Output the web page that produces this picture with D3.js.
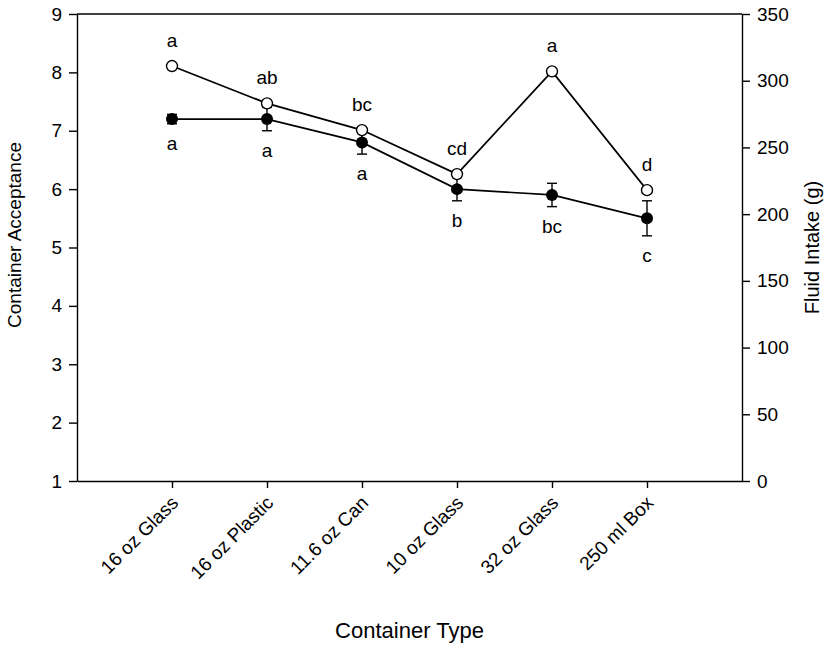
<!DOCTYPE html>
<html>
<head>
<meta charset="utf-8">
<script src="https://cdn.jsdelivr.net/npm/d3@7"></script>
<style>
  body { margin: 0; background: #fff; }
  svg text { font-family: "Liberation Sans", Arial, sans-serif; fill: #000; }
</style>
</head>
<body>
<div id="chart"></div>
<script>
// data
var containers = ["16 oz Glass", "16 oz Plastic", "11.6 oz Can", "10 oz Glass", "32 oz Glass", "250 ml Box"];
var acceptance = [7.2, 7.2, 6.8, 6.0, 5.9, 5.5];
var acceptanceErr = [0.08, 0.2, 0.2, 0.2, 0.2, 0.3];
var acceptanceLetters = ["a", "a", "a", "b", "bc", "c"];
var intake = [311, 283, 263, 230, 307, 218];
var intakeLetters = ["a", "ab", "bc", "cd", "a", "d"];
var leftTicks = [1, 2, 3, 4, 5, 6, 7, 8, 9];
var rightTicks = [0, 50, 100, 150, 200, 250, 300, 350];

// set the dimensions and margins of the graph
var margin = {top: 14, right: 82, bottom: 164, left: 77},
    width = 824 - margin.left - margin.right,
    height = 645 - margin.top - margin.bottom;

var svg = d3.select("#chart")
    .append("svg")
    .attr("width", 824)
    .attr("height", 645)
    .append("g")
    .attr("transform", "translate(" + margin.left + "," + margin.top + ")");

// scales
var x = d3.scalePoint()
    .domain(containers)
    .range([0, width])
    .padding(1);

var yLeft = d3.scaleLinear().domain([1, 9]).range([height, 0]);
var yRight = d3.scaleLinear().domain([0, 350]).range([height, 0]);

// axes
var xAxis = svg.append("g")
    .attr("transform", "translate(0," + height + ")")
    .call(d3.axisBottom(x).tickSize(7).tickSizeOuter(0));
xAxis.selectAll("text")
    .attr("font-size", 19)
    .attr("text-anchor", "end")
    .attr("dy", null)
    .attr("y", null)
    .attr("transform", "translate(7,23) rotate(-45)");

var leftAxis = svg.append("g")
    .call(d3.axisLeft(yLeft).tickValues(leftTicks).tickSize(8).tickSizeOuter(0).tickPadding(7));
leftAxis.selectAll("text").attr("font-size", 19);

var rightAxis = svg.append("g")
    .attr("transform", "translate(" + width + ",0)")
    .call(d3.axisRight(yRight).tickValues(rightTicks).tickSize(8).tickSizeOuter(0).tickPadding(7));
rightAxis.selectAll("text").attr("font-size", 19);

svg.selectAll(".domain").attr("stroke-width", 1.4);
svg.selectAll(".tick line").attr("stroke-width", 1.4);

// top border
svg.append("line")
    .attr("x1", 0).attr("x2", width)
    .attr("y1", 0).attr("y2", 0)
    .attr("stroke", "#000").attr("stroke-width", 1.4);

// axis titles
svg.append("text")
    .attr("transform", "translate(-56,221) rotate(-90)")
    .attr("text-anchor", "middle")
    .attr("font-size", 19)
    .text("Container Acceptance");

svg.append("text")
    .attr("transform", "translate(" + (width + 77) + "," + (height / 2) + ") rotate(-90)")
    .attr("text-anchor", "middle")
    .attr("font-size", 20)
    .text("Fluid Intake (g)");

svg.append("text")
    .attr("x", width / 2)
    .attr("y", height + 157)
    .attr("text-anchor", "middle")
    .attr("font-size", 22)
    .text("Container Type");

// acceptance series (filled)
var accLine = d3.line()
    .x(function(d, i) { return x(containers[i]); })
    .y(function(d) { return yLeft(d); });

svg.append("path")
    .datum(acceptance)
    .attr("d", accLine)
    .attr("fill", "none")
    .attr("stroke", "#000")
    .attr("stroke-width", 1.7);

var err = svg.append("g").attr("stroke", "#000").attr("stroke-width", 1.4);
acceptance.forEach(function(v, i) {
    var cx = x(containers[i]);
    var lo = yLeft(v - acceptanceErr[i]), hi = yLeft(v + acceptanceErr[i]);
    err.append("line").attr("x1", cx).attr("x2", cx).attr("y1", lo).attr("y2", hi);
    err.append("line").attr("x1", cx - 5).attr("x2", cx + 5).attr("y1", lo).attr("y2", lo);
    err.append("line").attr("x1", cx - 5).attr("x2", cx + 5).attr("y1", hi).attr("y2", hi);
});

svg.selectAll("circle.acc")
    .data(acceptance)
    .enter()
    .append("circle")
    .attr("class", "acc")
    .attr("cx", function(d, i) { return x(containers[i]); })
    .attr("cy", function(d) { return yLeft(d); })
    .attr("r", 6)
    .attr("fill", "#000");

svg.selectAll("text.accLab")
    .data(acceptanceLetters)
    .enter()
    .append("text")
    .attr("class", "accLab")
    .attr("x", function(d, i) { return x(containers[i]); })
    .attr("y", function(d, i) { return yLeft(acceptance[i] - acceptanceErr[i]) + 26; })
    .attr("text-anchor", "middle")
    .attr("font-size", 19)
    .text(function(d) { return d; });

// intake series (open)
var intLine = d3.line()
    .x(function(d, i) { return x(containers[i]); })
    .y(function(d) { return yRight(d); });

svg.append("path")
    .datum(intake)
    .attr("d", intLine)
    .attr("fill", "none")
    .attr("stroke", "#000")
    .attr("stroke-width", 1.7);

svg.selectAll("circle.int")
    .data(intake)
    .enter()
    .append("circle")
    .attr("class", "int")
    .attr("cx", function(d, i) { return x(containers[i]); })
    .attr("cy", function(d) { return yRight(d); })
    .attr("r", 5.5)
    .attr("fill", "#fff")
    .attr("stroke", "#000")
    .attr("stroke-width", 1.4);

svg.selectAll("text.intLab")
    .data(intakeLetters)
    .enter()
    .append("text")
    .attr("class", "intLab")
    .attr("x", function(d, i) { return x(containers[i]); })
    .attr("y", function(d, i) { return yRight(intake[i]) - 19; })
    .attr("text-anchor", "middle")
    .attr("font-size", 19)
    .text(function(d) { return d; });
</script>
</body>
</html>
